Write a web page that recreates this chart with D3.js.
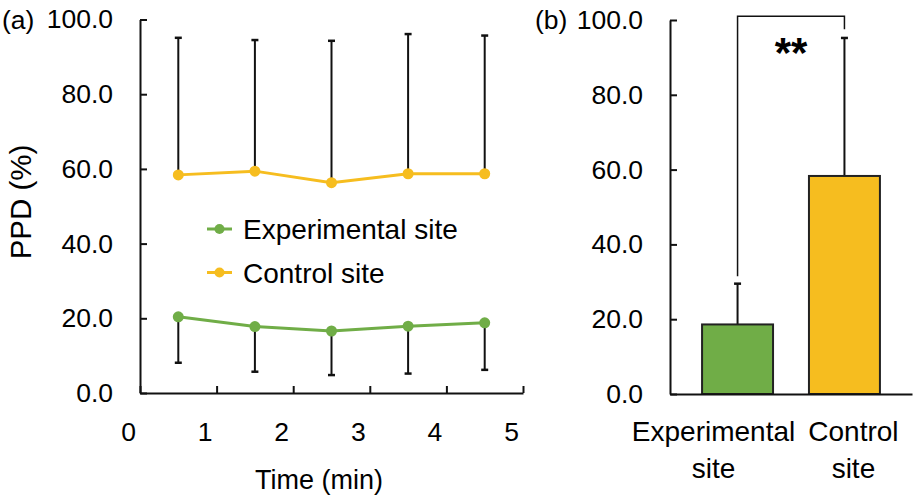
<!DOCTYPE html>
<html>
<head>
<meta charset="utf-8">
<script src="https://cdn.jsdelivr.net/npm/d3@7"></script>
<style>
  html, body { margin: 0; padding: 0; background: #fff; }
  svg text { font-family: "Liberation Sans", Arial, sans-serif; fill: #000; }
</style>
</head>
<body>
<svg id="chart" width="915" height="501"></svg>
<script>
// ---------- data ----------
const timePoints = [0.5, 1.5, 2.5, 3.5, 4.5];
const experimentalMean = [20.4, 17.8, 16.6, 17.9, 18.8];
const experimentalLower = [8.1, 5.7, 4.8, 5.2, 6.2];
const controlMean = [58.4, 59.4, 56.3, 58.7, 58.7];
const controlUpper = [95.1, 94.5, 94.3, 96.1, 95.7];
const xTicks = [0, 1, 2, 3, 4, 5];
const yTicks = [0, 20, 40, 60, 80, 100];
const seriesNames = ["Experimental site", "Control site"];

const barCategories = ["Experimental site", "Control site"];
const barLabelLines = [["Experimental", "site"], ["Control", "site"]];
const barMeans = [18.6, 58.3];
const barErrorTop = [29.5, 95.2];
const significance = "**";

const GREEN = "#70AD47", GOLD = "#F6BD1F";
const FS_TICK = 26.5, FS = 27.5;

const svg = d3.select("#chart");

// ---------- left panel (a) ----------
const xA = d3.scaleLinear().domain([0, 5]).range([140, 523]);
const yA = d3.scaleLinear().domain([0, 100]).range([393, 19.5]);

const gA = svg.append("g");

const yAxisA = gA.append("g").attr("transform", `translate(${xA(0)},0)`)
  .call(d3.axisLeft(yA).tickValues(yTicks).tickFormat(d3.format(".1f"))
    .tickSizeInner(-7).tickSizeOuter(0).tickPadding(27));
const xAxisA = gA.append("g").attr("transform", `translate(0,${yA(0)})`)
  .call(d3.axisBottom(xA).tickValues(xTicks).tickFormat(d => d)
    .tickSizeInner(-7).tickSizeOuter(0).tickPadding(29));
xAxisA.selectAll(".tick text").attr("dx", -12);

[yAxisA, xAxisA].forEach(ax => {
  ax.select(".domain").attr("stroke", "#111").attr("stroke-width", 2);
  ax.selectAll(".tick line").attr("stroke", "#111").attr("stroke-width", 2);
  ax.selectAll(".tick text").attr("font-size", FS_TICK).attr("font-family", "Liberation Sans, Arial, sans-serif");
});

function errBars(g, xs, from, to) {
  const eb = g.append("g");
  xs.forEach((t, i) => {
    eb.append("line").attr("x1", xA(t)).attr("x2", xA(t))
      .attr("y1", yA(from[i])).attr("y2", yA(to[i]))
      .attr("stroke", "#111").attr("stroke-width", 2);
    eb.append("line").attr("x1", xA(t) - 3.5).attr("x2", xA(t) + 3.5)
      .attr("y1", yA(to[i])).attr("y2", yA(to[i]))
      .attr("stroke", "#111").attr("stroke-width", 2.5);
  });
}
errBars(gA, timePoints, controlMean, controlUpper);
errBars(gA, timePoints, experimentalMean, experimentalLower);

const line = d3.line().x(d => xA(d[0])).y(d => yA(d[1]));
[[experimentalMean, GREEN], [controlMean, GOLD]].forEach(([vals, col]) => {
  const pts = timePoints.map((t, i) => [t, vals[i]]);
  gA.append("path").datum(pts).attr("d", line)
    .attr("fill", "none").attr("stroke", col).attr("stroke-width", 3);
  gA.selectAll(null).data(pts).enter().append("circle")
    .attr("cx", d => xA(d[0])).attr("cy", d => yA(d[1])).attr("r", 5.5)
    .attr("fill", col);
});

// legend
const legend = gA.append("g").attr("transform", "translate(207,229)");
seriesNames.forEach((name, i) => {
  const row = legend.append("g").attr("transform", `translate(0,${i * 43.5})`);
  const col = i === 0 ? GREEN : GOLD;
  row.append("line").attr("x1", 0).attr("x2", 25).attr("y1", 0).attr("y2", 0)
    .attr("stroke", col).attr("stroke-width", 3);
  row.append("circle").attr("cx", 12.5).attr("cy", 0).attr("r", 5).attr("fill", col);
  row.append("text").attr("x", 36).attr("y", 0).attr("dy", "0.36em")
    .attr("font-size", FS + 0.5).text(name);
});

// axis titles
gA.append("text").attr("transform", "translate(31,202) rotate(-90)")
  .attr("text-anchor", "middle").attr("font-size", 29.5).text("PPD (%)");
gA.append("text").attr("x", 319).attr("y", 489)
  .attr("text-anchor", "middle").attr("font-size", 27).text("Time (min)");
gA.append("text").attr("x", 2).attr("y", 29).attr("font-size", FS_TICK).text("(a)");

// ---------- right panel (b) ----------
const xB = d3.scaleBand().domain(barCategories).range([670, 912])
  .paddingInner(0.336).paddingOuter(0.3);
const yB = d3.scaleLinear().domain([0, 100]).range([394, 20]);
const gB = svg.append("g");

const yAxisB = gB.append("g").attr("transform", `translate(670,0)`)
  .call(d3.axisLeft(yB).tickValues(yTicks).tickFormat(d3.format(".1f"))
    .tickSizeInner(-7).tickSizeOuter(0).tickPadding(27));
yAxisB.select(".domain").attr("stroke", "#111").attr("stroke-width", 2);
yAxisB.selectAll(".tick line").attr("stroke", "#111").attr("stroke-width", 2);
yAxisB.selectAll(".tick text").attr("font-size", FS_TICK).attr("font-family", "Liberation Sans, Arial, sans-serif");

barCategories.forEach((c, i) => {
  const cx = xB(c) + xB.bandwidth() / 2;
  gB.append("line").attr("x1", cx).attr("x2", cx)
    .attr("y1", yB(barMeans[i])).attr("y2", yB(barErrorTop[i]))
    .attr("stroke", "#111").attr("stroke-width", 2);
  gB.append("line").attr("x1", cx - 3.5).attr("x2", cx + 3.5)
    .attr("y1", yB(barErrorTop[i])).attr("y2", yB(barErrorTop[i]))
    .attr("stroke", "#111").attr("stroke-width", 2.5);
});

gB.selectAll("rect.bar").data(barCategories).enter().append("rect")
  .attr("class", "bar")
  .attr("x", d => xB(d)).attr("width", xB.bandwidth())
  .attr("y", (d, i) => yB(barMeans[i]))
  .attr("height", (d, i) => yB(0) - yB(barMeans[i]))
  .attr("fill", (d, i) => i === 0 ? GREEN : GOLD)
  .attr("stroke", "#222").attr("stroke-width", 2);

const xAxisB = gB.append("g").attr("transform", `translate(0,${yB(0)})`)
  .call(d3.axisBottom(xB).tickSize(0).tickFormat(""));
xAxisB.select(".domain").attr("stroke", "#111").attr("stroke-width", 2);

const labelShift = [-24, 9];
barCategories.forEach((c, i) => {
  const cx = xB(c) + xB.bandwidth() / 2 + labelShift[i];
  barLabelLines[i].forEach((t, j) => {
    gB.append("text").attr("x", cx).attr("y", 441 + j * 37)
      .attr("text-anchor", "middle").attr("font-size", FS + 0.5).text(t);
  });
});

const c0 = xB(barCategories[0]) + xB.bandwidth() / 2;
const c1 = xB(barCategories[1]) + xB.bandwidth() / 2;
gB.append("path")
  .attr("d", `M${c0},${yB(31.5)}V${yB(101)}H${c1}V${yB(97.5)}`)
  .attr("fill", "none").attr("stroke", "#111").attr("stroke-width", 1.5);
gB.append("text").attr("x", (c0 + c1) / 2).attr("y", 67)
  .attr("text-anchor", "middle").attr("font-size", 42).attr("font-weight", "bold")
  .text(significance);

gB.append("text").attr("x", 535).attr("y", 29).attr("font-size", FS_TICK).text("(b)");
</script>
</body>
</html>
